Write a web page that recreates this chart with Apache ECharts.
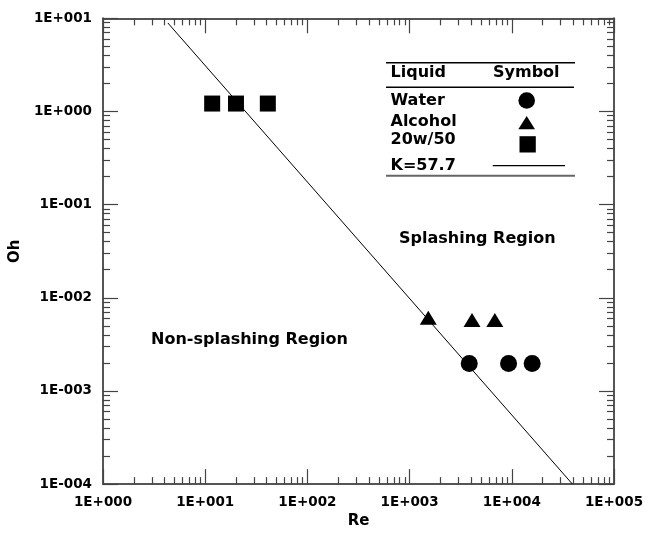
<!DOCTYPE html>
<html>
<head>
<meta charset="utf-8">
<script src="https://cdn.jsdelivr.net/npm/echarts@6/dist/echarts.min.js"></script>
<style>
html,body{margin:0;padding:0;background:#fff;}
#chart{width:659px;height:534px;}
</style>
</head>
<body>
<div id="chart"></div>
<script>
// ---- data ----
const waterRe = [3834, 9295, 15820];
const waterOh = [0.00197, 0.00197, 0.00197];
const alcoholRe = [1523, 4080, 6820];
const alcoholOh = [0.00612, 0.00578, 0.00578];
const oilRe = [11.7, 20.0, 41.0];
const oilOh = [1.216, 1.216, 1.216];
const kLineRe = [4.31, 39200];
const kLineOh = [8.91, 0.0001];

const xMajor = [1, 10, 100, 1000, 10000, 100000];
const xTickLabels = ['1E+000', '1E+001', '1E+002', '1E+003', '1E+004', '1E+005'];
const yMajor = [0.0001, 0.001, 0.01, 0.1, 1, 10];
const yTickLabels = ['1E-004', '1E-003', '1E-002', '1E-001', '1E+000', '1E+001'];
const minorMult = [2, 3, 4, 5, 6, 7, 8, 9];

const legendRows = ['Water', 'Alcohol', '20w/50', 'K=57.7'];
const legendHead = ['Liquid', 'Symbol'];
const regionLabels = ['Splashing Region', 'Non-splashing Region'];

function minorsOf(majors) {
  const out = [];
  for (let i = 0; i < majors.length - 1; i++) {
    minorMult.forEach(m => out.push(majors[i] * m));
  }
  return out;
}
const xMinor = minorsOf(xMajor);
const yMinor = minorsOf(yMajor);

const FONT = '"DejaVu Sans", "Liberation Sans", Arial, sans-serif';
const AX = '#555';
const TK = '#444';

function pair(a, b) { return a.map((v, i) => [v, b[i]]); }

function mkX(pos, major, showLabel, showLine) {
  const ticks = major ? xMajor : xMinor;
  return {
    type: 'log', logBase: 10, min: 1, max: 100000, position: pos, gridIndex: 0,
    axisLine: { show: showLine, onZero: false, lineStyle: { color: AX, width: 2 } },
    axisTick: { show: true, inside: true, length: major ? 15 : 7, customValues: ticks,
      lineStyle: { color: TK, width: 1.2 } },
    axisLabel: showLabel ? {
      show: true, margin: 11, customValues: xMajor,
      fontFamily: FONT, fontWeight: 'bold', fontSize: 13.5, color: '#000',
      formatter: function (v) { const i = xMajor.findIndex(m => Math.abs(Math.log10(m) - Math.log10(v)) < 1e-6); return i >= 0 ? xTickLabels[i] : ''; }
    } : { show: false },
    splitLine: { show: false },
    name: showLabel ? 'Re' : '', nameLocation: 'middle', nameGap: 24,
    nameTextStyle: { fontFamily: FONT, fontWeight: 'bold', fontSize: 15, color: '#000', verticalAlign: 'top' }
  };
}
function mkY(pos, major, showLabel, showLine) {
  const ticks = major ? yMajor : yMinor;
  return {
    type: 'log', logBase: 10, min: 0.0001, max: 10, position: pos, gridIndex: 0,
    axisLine: { show: showLine, onZero: false, lineStyle: { color: AX, width: 2 } },
    axisTick: { show: true, inside: true, length: major ? 15 : 7, customValues: ticks,
      lineStyle: { color: TK, width: 1.2 } },
    axisLabel: showLabel ? {
      show: true, margin: 11, customValues: yMajor,
      fontFamily: FONT, fontWeight: 'bold', fontSize: 13.5, color: '#000',
      formatter: function (v) { const i = yMajor.findIndex(m => Math.abs(Math.log10(m) - Math.log10(v)) < 1e-6); return i >= 0 ? yTickLabels[i] : ''; }
    } : { show: false },
    splitLine: { show: false },
    name: showLabel ? 'Oh' : '', nameLocation: 'middle', nameGap: 59,
    nameTextStyle: { fontFamily: FONT, fontWeight: 'bold', fontSize: 15, color: '#000' }
  };
}

const textStyleBase = { fill: '#000', font: 'bold 16px ' + FONT, textVerticalAlign: 'middle', verticalAlign: 'middle' };
function txt(t, x, y) { return { type: 'text', style: Object.assign({ text: t, x: x, y: y }, textStyleBase), z: 10 }; }
function hline(x1, x2, y, color, w) { return { type: 'line', shape: { x1: x1, y1: y, x2: x2, y2: y }, style: { stroke: color, lineWidth: w }, z: 10 }; }

const graphics = [
  hline(386, 575, 62.7, '#000', 1.4),
  txt(legendHead[0], 390.5, 73),
  txt(legendHead[1], 493, 73),
  hline(386, 574, 87.3, '#000', 1.4),
  txt(legendRows[0], 390.5, 101),
  txt(legendRows[1], 390.5, 121.5),
  txt(legendRows[2], 390.5, 139.5),
  txt(legendRows[3], 390.5, 166),
  { type: 'circle', shape: { cx: 526.7, cy: 100.5, r: 8.3 }, style: { fill: '#000' }, z: 10 },
  { type: 'polygon', shape: { points: [[518.3, 129.3], [535, 129.3], [526.7, 116]] }, style: { fill: '#000' }, z: 10 },
  { type: 'rect', shape: { x: 519.5, y: 136.2, width: 16.3, height: 16.3 }, style: { fill: '#000' }, z: 10 },
  hline(492.7, 565, 165.7, '#000', 1.2),
  hline(386, 575, 175.7, '#666', 2),
  { type: 'text', style: Object.assign({ text: regionLabels[0], x: 399, y: 239 }, textStyleBase), z: 10 },
  { type: 'text', style: Object.assign({ text: regionLabels[1], x: 151, y: 340 }, textStyleBase), z: 10 }
];

const markStyle = { color: '#000', opacity: 1 };

const chart = echarts.init(document.getElementById('chart'), null, { renderer: 'canvas' });
chart.setOption({
  animation: false,
  backgroundColor: '#fff',
  grid: { left: 94, right: 45, top: 18.3, bottom: 45.7, containLabel: false },
  xAxis: [
    mkX('bottom', true, true, true),
    mkX('bottom', false, false, false),
    mkX('top', true, false, true),
    mkX('top', false, false, false)
  ],
  yAxis: [
    mkY('left', true, true, true),
    mkY('left', false, false, false),
    mkY('right', true, false, true),
    mkY('right', false, false, false)
  ],
  series: [
    { name: 'K=57.7', type: 'line', data: pair(kLineRe, kLineOh), showSymbol: false, symbol: 'none',
      lineStyle: { color: '#000', width: 1 }, xAxisIndex: 0, yAxisIndex: 0, z: 3 },
    { name: 'Water', type: 'scatter', data: pair(waterRe, waterOh), symbol: 'circle', symbolSize: 17,
      itemStyle: markStyle, xAxisIndex: 0, yAxisIndex: 0, z: 4 },
    { name: 'Alcohol', type: 'scatter', data: pair(alcoholRe, alcoholOh), symbol: 'triangle', symbolSize: [17, 14],
      itemStyle: markStyle, xAxisIndex: 0, yAxisIndex: 0, z: 4 },
    { name: '20w/50', type: 'scatter', data: pair(oilRe, oilOh), symbol: 'rect', symbolSize: 16,
      itemStyle: markStyle, xAxisIndex: 0, yAxisIndex: 0, z: 4 }
  ],
  graphic: graphics
});
</script>
</body>
</html>
